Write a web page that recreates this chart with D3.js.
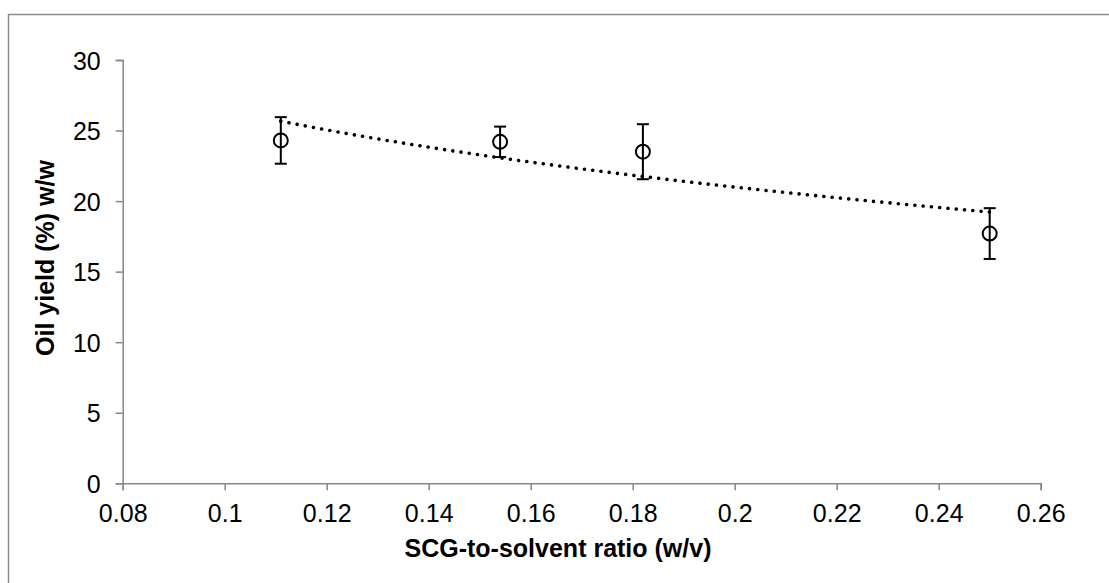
<!DOCTYPE html>
<html>
<head>
<meta charset="utf-8">
<script src="https://cdn.jsdelivr.net/npm/d3@7"></script>
<style>
  body { margin: 0; background: #fff; }
  svg { display: block; }
</style>
</head>
<body>
<script>
var width = 1109, height = 583;

// data
var ratios = [0.111, 0.154, 0.182, 0.25];
var yields = [24.3, 24.2, 23.5, 17.7];
var errors = [1.65, 1.08, 1.95, 1.8];
var xTicks = [0.08, 0.1, 0.12, 0.14, 0.16, 0.18, 0.2, 0.22, 0.24, 0.26];
var yTicks = [0, 5, 10, 15, 20, 25, 30];

var points = ratios.map(function (r, i) { return { x: r, y: yields[i], e: errors[i] } });

var plot = { left: 122.7, right: 1040.7, top: 60, bottom: 483.3 };

var x = d3.scaleLinear().domain([0.08, 0.26]).range([plot.left, plot.right]);
var y = d3.scaleLinear().domain([0, 30]).range([plot.bottom, plot.top]);

var svg = d3.select('body').append('svg').attr('width', width).attr('height', height);

// chart area border (cut off at right / bottom like the original)
svg.append('rect')
    .attr('x', 8.5).attr('y', 14.5)
    .attr('width', width + 20).attr('height', height + 20)
    .attr('fill', 'none')
    .attr('stroke', '#8c8c8c')
    .attr('stroke-width', 1.5);

var axisColor = '#868686';
var font = 'Arial, "Liberation Sans", sans-serif';

var xAxis = svg.append('g')
    .attr('transform', 'translate(0,' + plot.bottom + ')')
    .call(d3.axisBottom(x).tickValues(xTicks).tickSize(7).tickPadding(14)
        .tickFormat(function (d) { return String(+d.toFixed(2)) }));

var yAxis = svg.append('g')
    .attr('transform', 'translate(' + plot.left + ',0)')
    .call(d3.axisLeft(y).tickValues(yTicks).tickSize(7).tickPadding(15));

[xAxis, yAxis].forEach(function (g) {
    g.select('.domain').attr('stroke', axisColor).attr('stroke-width', 1.5);
    g.selectAll('.tick line').attr('stroke', axisColor).attr('stroke-width', 1.5);
    g.selectAll('.tick text')
        .attr('fill', '#000')
        .attr('font-family', font)
        .attr('font-size', 25);
});
yAxis.selectAll('.tick text').attr('dy', '0.36em');

// axis titles
svg.append('text')
    .attr('x', 558).attr('y', 557)
    .attr('text-anchor', 'middle')
    .attr('font-family', font)
    .attr('font-size', 25)
    .attr('font-weight', 'bold')
    .text('SCG-to-solvent ratio (w/v)');

svg.append('text')
    .attr('transform', 'translate(54,258) rotate(-90)')
    .attr('text-anchor', 'middle')
    .attr('font-family', font)
    .attr('font-size', 25)
    .attr('font-weight', 'bold')
    .text('Oil yield (%) w/w');

// logarithmic trendline fitted to the points (y = a + b ln x)
var lx = ratios.map(Math.log);
var mx = d3.mean(lx), my = d3.mean(yields);
var b = d3.sum(lx, function (v, i) { return (v - mx) * (yields[i] - my) }) /
        d3.sum(lx, function (v) { return (v - mx) * (v - mx) });
var a = my - b * mx;
var trend = d3.range(0, 61).map(function (i) {
    var r = ratios[0] + (ratios[ratios.length - 1] - ratios[0]) * i / 60;
    return [r, a + b * Math.log(r)];
});

svg.append('path')
    .datum(trend)
    .attr('d', d3.line().x(function (d) { return x(d[0]) }).y(function (d) { return y(d[1]) }))
    .attr('fill', 'none')
    .attr('stroke', '#000')
    .attr('stroke-width', 3.6)
    .attr('stroke-linecap', 'round')
    .attr('stroke-dasharray', '0.01 8.3');

// error bars
var bars = svg.append('g').attr('class', 'errorBars').selectAll('g')
    .data(points).enter().append('g')
    .attr('stroke', '#000').attr('stroke-width', 2);

bars.append('line')
    .attr('x1', function (d) { return x(d.x) }).attr('x2', function (d) { return x(d.x) })
    .attr('y1', function (d) { return y(d.y + d.e) }).attr('y2', function (d) { return y(d.y - d.e) });
bars.append('line')
    .attr('x1', function (d) { return x(d.x) - 6 }).attr('x2', function (d) { return x(d.x) + 6 })
    .attr('y1', function (d) { return y(d.y + d.e) }).attr('y2', function (d) { return y(d.y + d.e) });
bars.append('line')
    .attr('x1', function (d) { return x(d.x) - 6 }).attr('x2', function (d) { return x(d.x) + 6 })
    .attr('y1', function (d) { return y(d.y - d.e) }).attr('y2', function (d) { return y(d.y - d.e) });

// markers
svg.append('g').attr('class', 'nodes').selectAll('circle')
    .data(points).enter().append('circle')
    .attr('cx', function (d) { return x(d.x) })
    .attr('cy', function (d) { return y(d.y) })
    .attr('r', 7)
    .attr('fill', 'none')
    .attr('stroke', '#000')
    .attr('stroke-width', 2);
</script>
</body>
</html>
